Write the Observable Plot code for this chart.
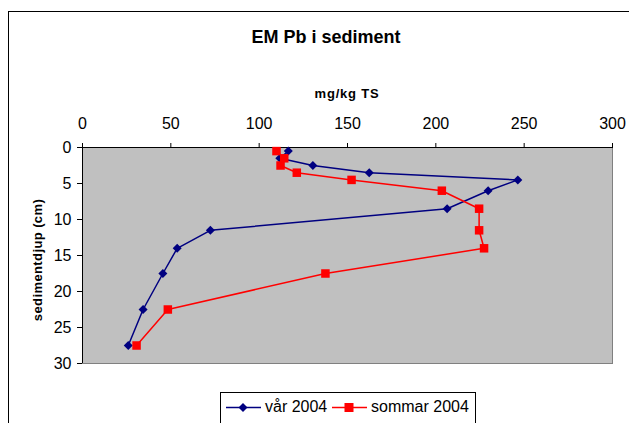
<!DOCTYPE html>
<html>
<head>
<meta charset="utf-8">
<script src="https://cdn.jsdelivr.net/npm/d3@7"></script>
<script src="https://cdn.jsdelivr.net/npm/@observablehq/plot@0.6"></script>
<style>
  html, body { margin: 0; padding: 0; background: #fff; overflow: hidden; }
  #wrap { position: relative; width: 629px; height: 423px; overflow: hidden; font-family: "Liberation Sans", Arial, sans-serif; }
  #frame { position: absolute; left: 8px; top: 11px; width: 636px; height: 440px; border: 1px solid #000; box-sizing: border-box; }
  #chart { position: absolute; left: 0; top: 0; }
  .lbl { position: absolute; white-space: nowrap; font-weight: bold; color: #000; line-height: 1; }
  #title { left: 326px; top: 37px; transform: translate(-50%, -50%); font-size: 18px; }
  #xlabel { left: 347px; top: 93px; transform: translate(-50%, -50%); font-size: 13px; letter-spacing: 0.8px; }
  #ylabel { left: 37px; top: 260px; transform: translate(-50%, -50%) rotate(-90deg); font-size: 13px; letter-spacing: 0.4px; }
  #legend { position: absolute; left: 220px; top: 392px; width: 256px; height: 60px; border: 1px solid #000; box-sizing: border-box; background: #fff; font-size: 16px; }
  #legend .item { position: absolute; top: 5px; display: flex; align-items: center; }
  #legend svg { display: block; }
</style>
</head>
<body>
<div id="wrap">
  <div id="frame"></div>
  <div id="chart"></div>
  <div class="lbl" id="title">EM Pb i sediment</div>
  <div class="lbl" id="xlabel">mg/kg TS</div>
  <div class="lbl" id="ylabel">sedimentdjup (cm)</div>
  <div id="legend"></div>
</div>
<script>
// Data
const depth = [0.5, 1.5, 2.5, 3.5, 4.5, 6, 8.5, 11.5, 14, 17.5, 22.5, 27.5];
const var2004 = [116.5, 111.7, 130.4, 162.3, 246.4, 229.6, 206.4, 72.4, 53.6, 45.5, 34.3, 25.9];
const sommar2004 = [109.8, 114.2, 112.1, 121.3, 152.3, 203.4, 224.5, 224.5, 227.3, 137.5, 48.3, 30.6];
const xTicks = [0, 50, 100, 150, 200, 250, 300];
const yTicks = [0, 5, 10, 15, 20, 25, 30];
const seriesNames = ["vår 2004", "sommar 2004"];
const seriesColors = ["#000080", "#ff0000"];

const vData = depth.map((d, i) => ({d, v: var2004[i]}));
const sData = depth.map((d, i) => ({d, v: sommar2004[i]}));

// Excel-style diamond (rotated square)
const diamond = {
  draw(ctx, size) {
    const s = Math.sqrt(size / 2);
    ctx.moveTo(0, -s); ctx.lineTo(s, 0); ctx.lineTo(0, s); ctx.lineTo(-s, 0); ctx.closePath();
  }
};

const chart = Plot.plot({
  width: 629,
  height: 423,
  marginLeft: 82,
  marginRight: 17,
  marginTop: 147,
  marginBottom: 60,
  style: {fontFamily: "'Liberation Sans', Arial, sans-serif", color: "#000", background: "transparent", overflow: "visible"},
  x: {domain: [0, 300]},
  y: {domain: [0, 30], reverse: true},
  marks: [
    Plot.frame({fill: "#c0c0c0", stroke: "#808080"}),
    Plot.axisX({anchor: "top", ticks: xTicks, tickSize: 5, tickPadding: 14, fontSize: 16, label: null, stroke: "#000"}),
    Plot.axisY({anchor: "left", ticks: yTicks, tickSize: 5, tickPadding: 6, fontSize: 16, label: null, stroke: "#000"}),
    Plot.ruleY([0], {stroke: "#000"}),
    Plot.ruleX([0], {stroke: "#000"}),
    Plot.line(vData, {x: "v", y: "d", stroke: seriesColors[0], strokeWidth: 1.5}),
    Plot.dot(vData, {x: "v", y: "d", symbol: diamond, r: 3.6, fill: seriesColors[0], stroke: "none"}),
    Plot.line(sData, {x: "v", y: "d", stroke: seriesColors[1], strokeWidth: 1.5}),
    Plot.dot(sData, {x: "v", y: "d", symbol: "square", r: 4.8, fill: seriesColors[1], stroke: "none"})
  ]
});
document.getElementById("chart").appendChild(chart);

// Legend
const legend = document.getElementById("legend");
const positions = [5, 111];
seriesNames.forEach((name, i) => {
  const item = document.createElement("div");
  item.className = "item";
  item.style.left = positions[i] + "px";
  const marker = i === 0
    ? `<path d="M17,3 L21.5,7.5 L17,12 L12.5,7.5Z" fill="${seriesColors[i]}"/>`
    : `<rect x="12.5" y="3" width="9" height="9" fill="${seriesColors[i]}"/>`;
  item.innerHTML = `<svg width="36" height="15"><line x1="0" y1="7.5" x2="35" y2="7.5" stroke="${seriesColors[i]}" stroke-width="1.5"/>${marker}</svg><span style="margin-left:3px">${name}</span>`;
  legend.appendChild(item);
});
</script>
</body>
</html>
